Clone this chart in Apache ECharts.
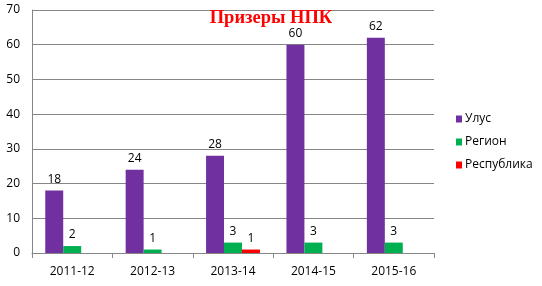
<!DOCTYPE html>
<html><head><meta charset="utf-8">
<script src="https://cdn.jsdelivr.net/npm/echarts@6/dist/echarts.min.js"></script>
<style>html,body{margin:0;padding:0;background:#fff}#c{width:542px;height:286px}</style>
</head><body><div id="c"></div>
<script>
const categories = ['2011-12','2012-13','2013-14','2014-15','2015-16'];
const ulus = [18, 24, 28, 60, 62];
const region = [2, 1, 3, 3, 3];
const respublika = [0, 0, 1, 0, 0];
const seriesNames = ['Улус','Регион','Республика'];
const colors = ['#7030A0','#00B050','#FF0000'];
const titleText = 'Призеры НПК';

const font = 'Open Sans';
const mk = (name, data, color) => ({
  name, type: 'bar', data, itemStyle: {color},
  barGap: '0%', barCategoryGap: '33%',
  label: {show: true, position: 'top', distance: 5, color: '#000', fontFamily: font, fontSize: 12,
    formatter: p => p.value === 0 ? '' : p.value}
});
const chart = echarts.init(document.getElementById('c'), null, {renderer: 'canvas'});
chart.setOption({
  animation: false,
  title: {text: titleText, left: 'center', top: 4,
    textStyle: {color: '#FF0000', fontFamily: 'Liberation Serif', fontWeight: 'bold', fontSize: 18.5}},
  grid: {left: 32, right: 108, top: 10, bottom: 33, containLabel: false},
  legend: {orient: 'vertical', left: 456, top: 113, padding: 0, itemWidth: 6, itemHeight: 7, itemGap: 11,
    icon: 'rect', textStyle: {fontFamily: font, fontSize: 12, color: '#000', padding: [0,0,0,-2]},
    data: seriesNames},
  xAxis: {type: 'category', data: categories,
    axisLine: {lineStyle: {color: '#868686'}},
    axisTick: {show: true, length: 5, lineStyle: {color: '#868686'}},
    axisLabel: {fontFamily: font, fontSize: 12, color: '#000', margin: 13}},
  yAxis: {type: 'value', min: 0, max: 70, interval: 10,
    axisLine: {show: true, lineStyle: {color: '#868686'}},
    axisTick: {show: false},
    splitLine: {lineStyle: {color: '#868686'}},
    axisLabel: {fontFamily: font, fontSize: 12, color: '#000', margin: 12}},
  series: [mk(seriesNames[0], ulus, colors[0]), mk(seriesNames[1], region, colors[1]), mk(seriesNames[2], respublika, colors[2])]
});
</script></body></html>
